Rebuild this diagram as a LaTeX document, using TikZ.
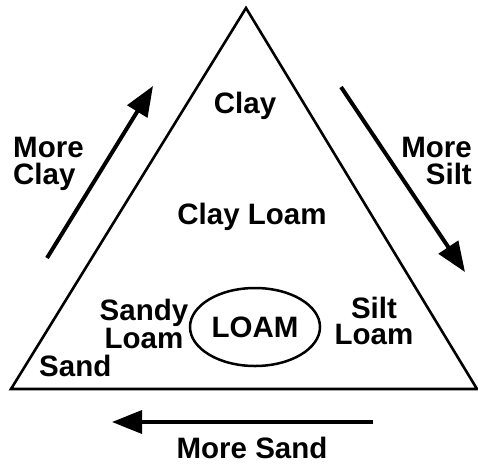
\documentclass[tikz,border=0pt]{standalone}
\usepackage{fontspec}
\setmainfont{Liberation Sans}
\usetikzlibrary{arrows.meta,shapes.geometric}
\begin{document}
\begin{tikzpicture}[x=1pt,y=-1pt,
  lbl/.style={font=\fontsize{29.5}{30}\selectfont\bfseries, inner sep=0pt, anchor=base},
  twoline/.style={font=\fontsize{29.5}{#1}\selectfont\bfseries, inner sep=0pt, anchor=north, align=center},
  edge/.style={line width=2.6pt, line join=miter},
  bigarrow/.style={line width=4pt, -{Triangle[length=30pt,width=23pt]}}]
\useasboundingbox (0,0) rectangle (478,463);
\fill[white] (0,0) rectangle (478,463);
% triangle
\coordinate (apex) at (246,8);
\coordinate (bl) at (11,389);
\coordinate (br) at (477,389);
\draw[edge] (apex) -- (bl) -- (br) -- cycle;
% arrows
\coordinate (clayS) at (47,258);
\coordinate (clayE) at (153,86);
\draw[bigarrow] (clayS) -- (clayE);
\coordinate (siltS) at (341,87);
\coordinate (siltE) at (465,272);
\draw[bigarrow] (siltS) -- (siltE);
\coordinate (sandS) at (373,422);
\coordinate (sandE) at (112,422);
\draw[bigarrow, line width=3.5pt] (sandS) -- (sandE);
% labels
\node[lbl] (clay) at (245,113) {Clay};
\node[lbl] (clayloam) at (252,224) {Clay Loam};
\node[lbl, anchor=base west] (more1) at (13,157) {More};
\node[lbl, anchor=base west] (clay2) at (13,184) {Clay};
\node[lbl, anchor=base east] (more2) at (472,157) {More};
\node[lbl, anchor=base east] (silt) at (472,184) {Silt};
\node[twoline=24pt] (sandyloam) at (144,299) {Sandy\\Loam};
\node[twoline=26pt] (siltloam) at (374,297) {Silt\\Loam};
\node[lbl, anchor=base west] (sand) at (39,376) {Sand};
\node[lbl] (moresand) at (252,458) {More Sand};
\node[ellipse, draw, line width=2.5pt, minimum width=130pt, minimum height=78pt, inner sep=0pt,
  font=\fontsize{29.5}{30}\selectfont\bfseries] (loam) at (255,327) {LOAM};
\end{tikzpicture}
\end{document}
